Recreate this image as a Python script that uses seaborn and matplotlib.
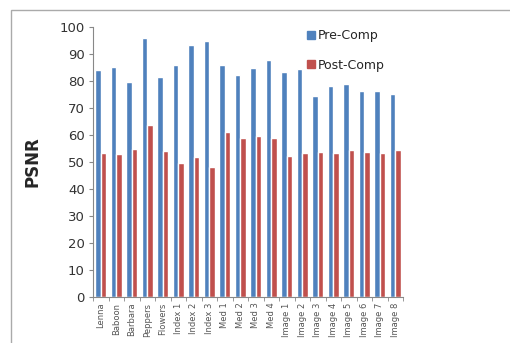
import matplotlib
matplotlib.use("Agg")
import matplotlib.pyplot as plt
import seaborn as sns
import pandas as pd
from matplotlib.patches import Rectangle

images = ["Lenna", "Baboon", "Barbara", "Peppers", "Flowers",
          "Index 1", "Index 2", "Index 3", "Med 1", "Med 2", "Med 3", "Med 4",
          "Image 1", "Image 2", "Image 3", "Image 4", "Image 5", "Image 6",
          "Image 7", "Image 8"]
pre_comp = [84.0, 85.2, 79.5, 96.1, 81.3, 86.1, 93.5, 94.7, 86.1, 82.1,
            84.8, 87.7, 83.3, 84.3, 74.3, 78.2, 78.7, 76.2, 76.4, 75.2]
post_comp = [53.5, 53.1, 54.8, 63.6, 54.2, 49.6, 51.7, 48.3, 61.0, 59.0,
             59.5, 59.0, 52.1, 53.3, 53.8, 53.3, 54.3, 53.8, 53.3, 54.3]
series = ["Pre-Comp", "Post-Comp"]
colors = ["#4F81BD", "#C0504D"]
yticks = list(range(0, 101, 10))

df = pd.DataFrame({
    "image": images * 2,
    "psnr": pre_comp + post_comp,
    "series": [series[0]] * len(images) + [series[1]] * len(images),
})

sns.set_style("white")
fig = plt.figure(figsize=(5.1002, 3.4302), dpi=100)
fig.patch.set_linewidth(0)
ax = fig.add_axes([93 / 510, 1 - 297 / 343, 310 / 510, 270 / 343])

sns.barplot(data=df, x="image", y="psnr", hue="series", order=images,
            hue_order=series, palette=colors, width=0.72, ax=ax,
            saturation=1, legend=False)

ax.set_xlim(-0.5, len(images) - 0.5)
ax.set_ylim(0, 100)
ax.set_yticks(yticks)
ax.set_yticklabels([str(t) for t in yticks], fontsize=9.5, color="#333333")
ax.set_xticks(range(len(images)))
ax.set_xticklabels(images, rotation=90, fontsize=6, color="#555555")
ax.set_xticks([i - 0.5 for i in range(len(images) + 1)], minor=True)
ax.tick_params(axis="x", which="major", length=0, pad=4)
ax.tick_params(axis="x", which="minor", length=3, color="#888888", direction="out", bottom=True)
ax.tick_params(axis="y", length=3, color="#888888", direction="out", left=True, pad=3)
ax.set_xlabel("")
ax.set_ylabel("PSNR", fontsize=12, fontweight="bold")
ax.yaxis.set_label_coords(-0.165, 0.5)
for s in ["top", "right"]:
    ax.spines[s].set_visible(False)
for s in ["left", "bottom"]:
    ax.spines[s].set_color("#888888")
    ax.spines[s].set_linewidth(0.8)

handles = [plt.Rectangle((0, 0), 1, 1, color=c) for c in colors]
fig.legend(handles, series, loc="upper left",
           bbox_to_anchor=(296 / 510, 1 - 18 / 343), frameon=False,
           fontsize=9, handlelength=0.6, handleheight=0.6,
           handletextpad=0.25, labelspacing=1.3)

# outer frame: only its top and left edges fall inside the canvas
fx = 10.5 / 510
fy = 1 - 10.5 / 343
fig.add_artist(Rectangle((fx, -0.5), 2.0, fy + 0.5, transform=fig.transFigure,
                         fill=False, edgecolor="#aaaaaa", lw=1, zorder=0))

fig.savefig("out.png", dpi=100)
